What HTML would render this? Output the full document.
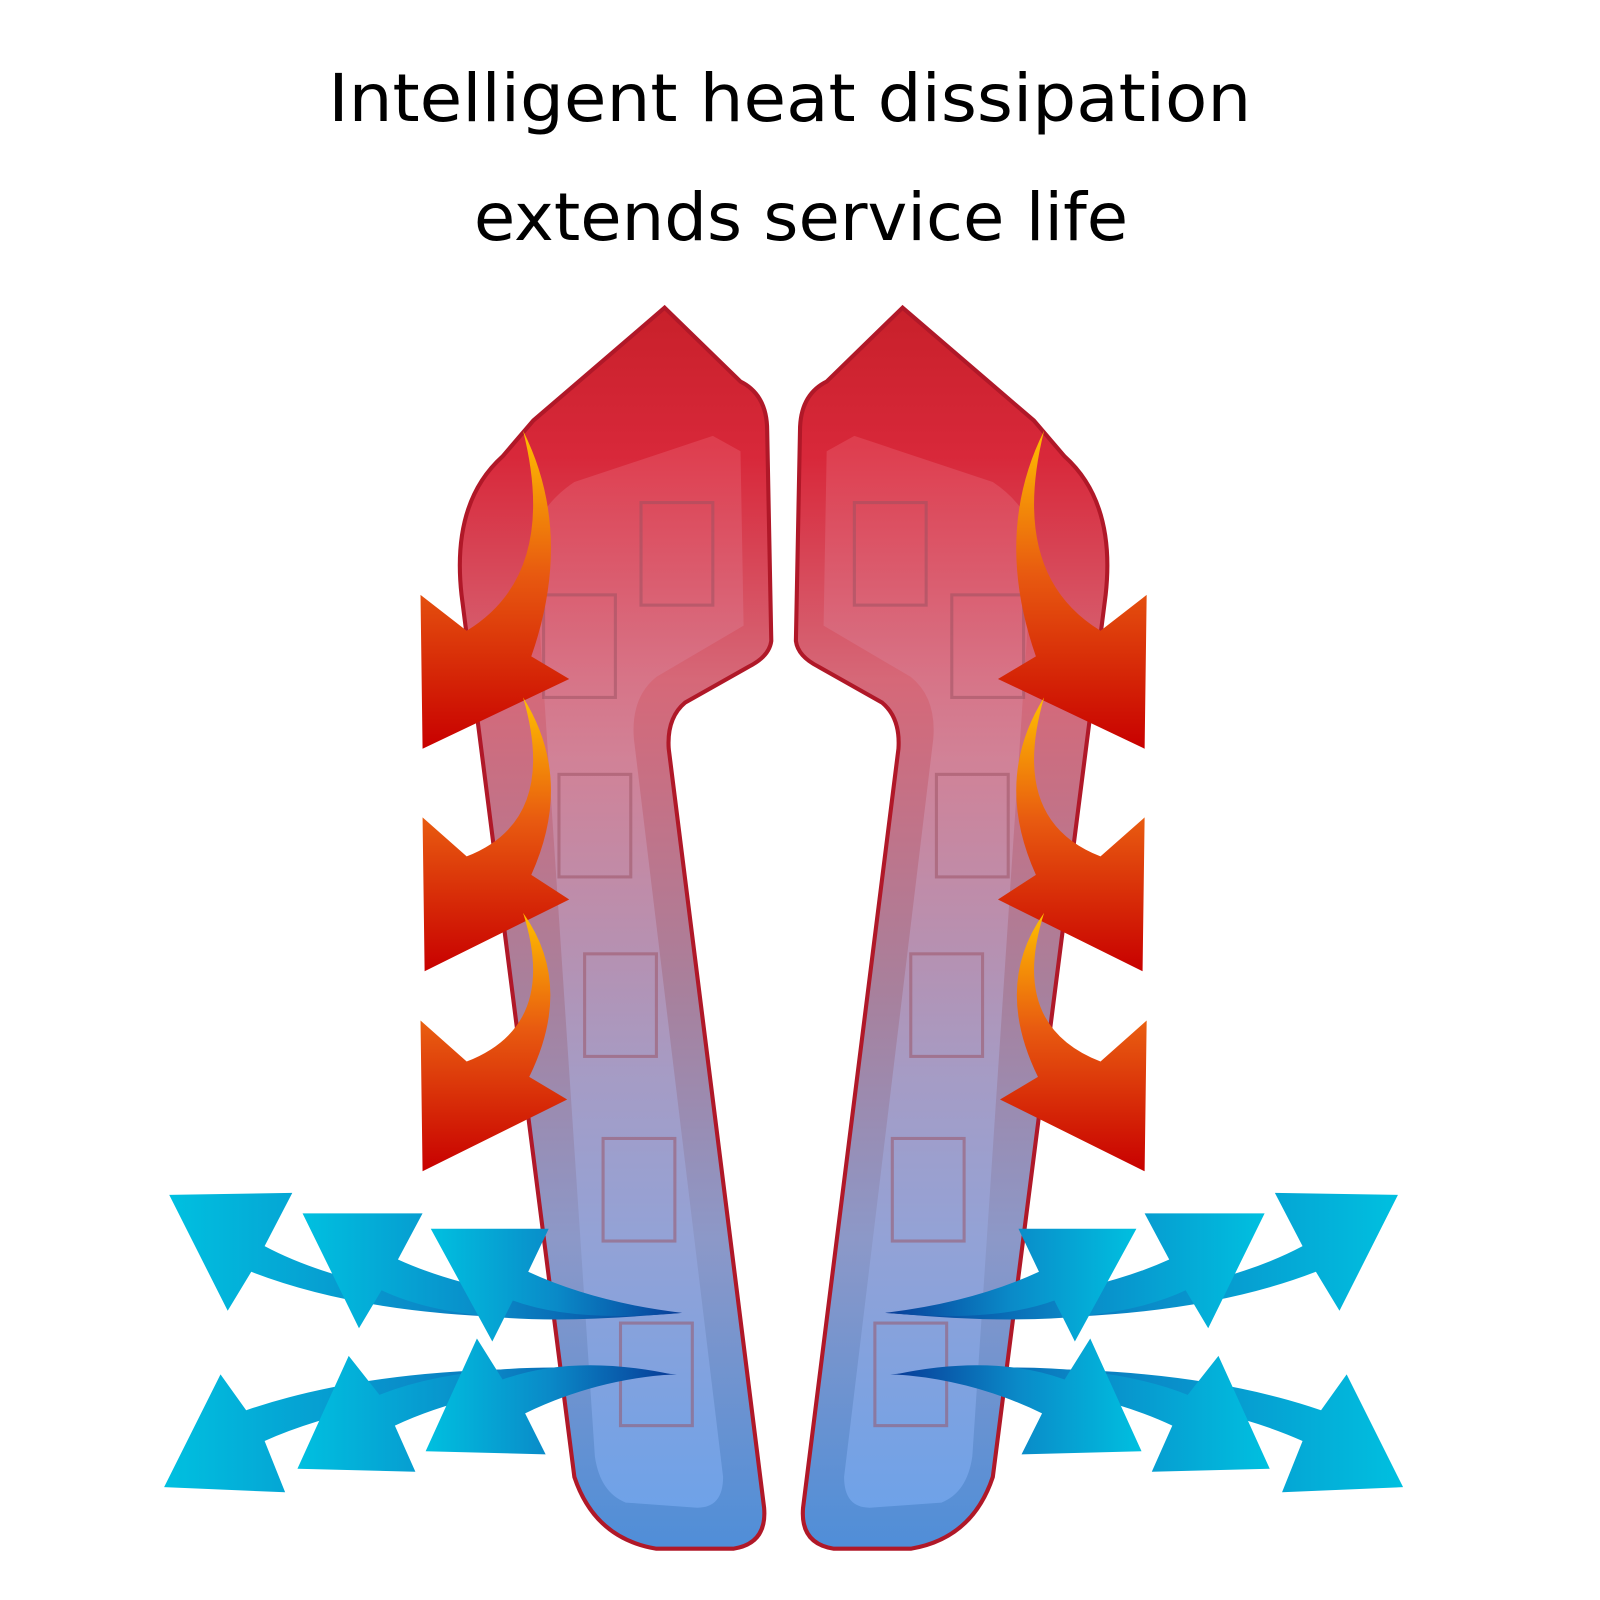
<!DOCTYPE html>
<html><head><meta charset="utf-8"><style>
html,body{margin:0;padding:0;background:#fff;}
svg{display:block;}
</style></head><body>
<svg width="1600" height="1600" viewBox="0 0 1560 1560" xmlns="http://www.w3.org/2000/svg">
<defs>
<linearGradient id="lamp" x1="0" y1="0" x2="0" y2="1">
<stop offset="0" stop-color="#c8202a"/><stop offset="0.12" stop-color="#d8283a"/>
<stop offset="0.3" stop-color="#d66878"/><stop offset="0.55" stop-color="#a8809c"/>
<stop offset="0.75" stop-color="#8c98c8"/><stop offset="1" stop-color="#4f8ed8"/></linearGradient>
<linearGradient id="inner" x1="0" y1="0" x2="0" y2="1">
<stop offset="0" stop-color="#e24656"/><stop offset="0.3" stop-color="#d48aa0"/>
<stop offset="0.6" stop-color="#a8a4d0"/><stop offset="1" stop-color="#78aaf0"/></linearGradient>
<linearGradient id="heat" x1="0" y1="0" x2="0" y2="1">
<stop offset="0" stop-color="#ffc000"/><stop offset="0.45" stop-color="#e85a10"/><stop offset="1" stop-color="#c80000"/></linearGradient>
<linearGradient id="cool" x1="0" y1="0" x2="1" y2="0">
<stop offset="0" stop-color="#00c0e0"/><stop offset="0.5" stop-color="#0a8ac8"/><stop offset="1" stop-color="#083c98"/></linearGradient>
<g id="lampL">
<path d="M648,300 L722,372 Q748,385 748,420 L752,625 Q750,640 730,650 L668,685 Q650,700 652,730 L745,1470 Q748,1505 715,1510 L640,1510 Q580,1500 560,1440 L450,580 Q440,490 490,445 L520,410 Z" fill="url(#lamp)" stroke="#b01828" stroke-width="4"/>
<path d="M695,425 L722,440 L725,610 L640,660 Q615,680 618,720 L705,1440 Q705,1470 680,1470 L610,1465 Q585,1455 580,1420 L520,520 Q530,490 560,470 Z" fill="url(#inner)" opacity="0.7"/>
<g fill="none" stroke="#9a5060" stroke-width="3" opacity="0.5">
<rect x="625" y="490" width="70" height="100"/><rect x="530" y="580" width="70" height="100"/>
<rect x="545" y="755" width="70" height="100"/><rect x="570" y="930" width="70" height="100"/>
<rect x="588" y="1110" width="70" height="100"/><rect x="605" y="1290" width="70" height="100"/></g>
<g fill="url(#heat)">
<path d="M510,420 Q545,560 455,615 L410,580 L412,730 L555,662 L518,640 Q560,520 510,420 Z"/>
<path d="M510,680 Q545,800 455,835 L412,797 L414,947 L555,877 L518,853 Q560,760 510,680 Z"/>
<path d="M510,890 Q545,1000 455,1035 L410,995 L412,1142 L553,1072 L516,1050 Q560,960 510,890 Z"/>
</g>
<g fill="url(#cool)">
<path d="M165,1165 L285,1163 L258,1215 Q380,1280 665,1280 Q400,1300 245,1240 L222,1278 Z"/>
<path d="M295,1183 L412,1183 L388,1228 Q480,1270 660,1280 Q460,1300 372,1258 L350,1295 Z"/>
<path d="M420,1198 L535,1198 L515,1240 Q580,1270 665,1280 Q560,1290 500,1268 L480,1308 Z"/>
<path d="M160,1450 L278,1455 L258,1405 Q380,1350 660,1340 Q400,1320 240,1375 L215,1340 Z"/>
<path d="M290,1432 L405,1435 L385,1390 Q480,1345 655,1340 Q470,1320 370,1360 L340,1322 Z"/>
<path d="M415,1415 L532,1418 L512,1378 Q580,1345 655,1340 Q560,1320 490,1345 L465,1305 Z"/>
</g>
</g>
</defs>
<text x="320" y="118" textLength="900" lengthAdjust="spacingAndGlyphs" font-family="DejaVu Sans, sans-serif" font-size="64" fill="#000">Intelligent heat dissipation</text>
<text x="462" y="234" textLength="638" lengthAdjust="spacingAndGlyphs" font-family="DejaVu Sans, sans-serif" font-size="64" fill="#000">extends service life</text>
<use href="#lampL"/>
<use href="#lampL" transform="translate(1528,0) scale(-1,1)"/>
</svg>
</body></html>
